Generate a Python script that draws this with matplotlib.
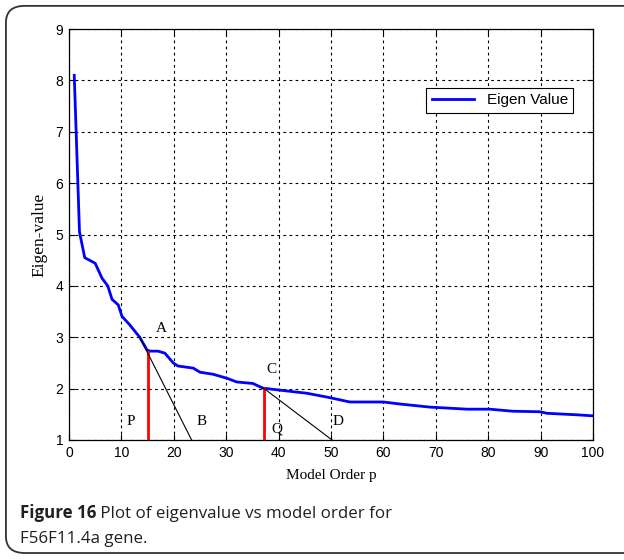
import numpy as np
import matplotlib.pyplot as plt
from matplotlib.patches import FancyBboxPatch

# eigenvalue spectrum vs model order
order = [1, 2, 3, 5, 6.3, 7.4, 8.2, 9.4, 10.1, 11.6, 13.5, 14.9, 15.5, 17, 18.3,
         19.9, 20.8, 23.7, 25, 27.5, 30.2, 32, 35.1, 37, 40.3, 45.4, 49.5, 53.6,
         60, 63.2, 68.9, 76, 80.3, 84.7, 89.9, 91.2, 97, 100]
eigen = [8.1, 5.05, 4.55, 4.44, 4.15, 4.0, 3.74, 3.63, 3.41, 3.24, 3.0, 2.75,
         2.73, 2.73, 2.69, 2.5, 2.44, 2.40, 2.32, 2.28, 2.2, 2.13, 2.1, 2.01,
         1.97, 1.91, 1.83, 1.74, 1.74, 1.70, 1.64, 1.60, 1.60, 1.56, 1.55, 1.52,
         1.49, 1.47]

# chosen orders (red markers) and tangent lines
red_p = [15, 37.3]
red_top = [2.72, 2.01]
tangents = [([13.5, 23.4], [3.0, 1.0]), ([37.0, 50.2], [2.02, 1.0])]
labels = ['A', 'P', 'B', 'C', 'Q', 'D']
label_x = [16.5, 11.0, 24.3, 37.6, 38.6, 50.3]
label_y = [3.1, 1.3, 1.3, 2.3, 1.15, 1.3]

fig = plt.figure(figsize=(6.24, 5.6), dpi=100)
ax = fig.add_axes([0.1106, 0.2143, 0.8397, 0.7337])

ax.plot(order, eigen, color='#0000ff', lw=2, label='Eigen Value', zorder=3)
for px, top in zip(red_p, red_top):
    ax.plot([px, px], [1, top], color='#ff0000', lw=2, zorder=4)
for tx, ty in tangents:
    ax.plot(tx, ty, color='black', lw=0.8, zorder=4)
for s, lx, ly in zip(labels, label_x, label_y):
    ax.text(lx, ly, s, family='Liberation Serif', fontsize=11)

ax.set_xlim(0, 100)
ax.set_ylim(1, 9)
ax.set_xticks(np.arange(0, 101, 10))
ax.set_yticks(np.arange(1, 10, 1))
ax.grid(True, color='black', linestyle=(0, (2.5, 3)), lw=0.8)
ax.tick_params(direction='in', top=True, right=True, length=4, width=0.8,
               labelsize=10, pad=4)
for lab in ax.get_xticklabels() + ax.get_yticklabels():
    lab.set_family('Liberation Sans')
for sp in ax.spines.values():
    sp.set_linewidth(0.9)
ax.set_xlabel('Model Order p', family='Liberation Serif', fontsize=11, labelpad=7)
ax.set_ylabel('Eigen-value', family='Liberation Serif', fontsize=12.5, labelpad=6)

leg = ax.legend(loc='upper right', bbox_to_anchor=(0.977, 0.875), fancybox=False,
                edgecolor='black', framealpha=1, prop={'family': 'Liberation Sans', 'size': 11},
                handlelength=2.8, borderpad=0.35)
leg.get_frame().set_linewidth(0.8)

# rounded panel border
border = FancyBboxPatch((0.0095, 0.0125), 1.05, 0.977, boxstyle='round,pad=0,rounding_size=0.03',
                        transform=fig.transFigure, fill=False, edgecolor='#333333', lw=1.3,
                        clip_on=False)
fig.patches.append(border)

# caption
cap_col = '#231f20'
t1 = fig.text(0.032, 1 - 518 / 560, 'Figure 16', family='Open Sans', weight='bold',
              fontsize=12.2, color=cap_col)
fig.canvas.draw()
bb = t1.get_window_extent(fig.canvas.get_renderer())
x_next = bb.x1 / fig.bbox.width
fig.text(x_next, 1 - 518 / 560, ' Plot of eigenvalue vs model order for', family='Open Sans',
         fontsize=12.2, color=cap_col)
fig.text(0.032, 1 - 543 / 560, 'F56F11.4a gene.', family='Open Sans', fontsize=12.2, color=cap_col)

fig.savefig('out.png', dpi=100)
